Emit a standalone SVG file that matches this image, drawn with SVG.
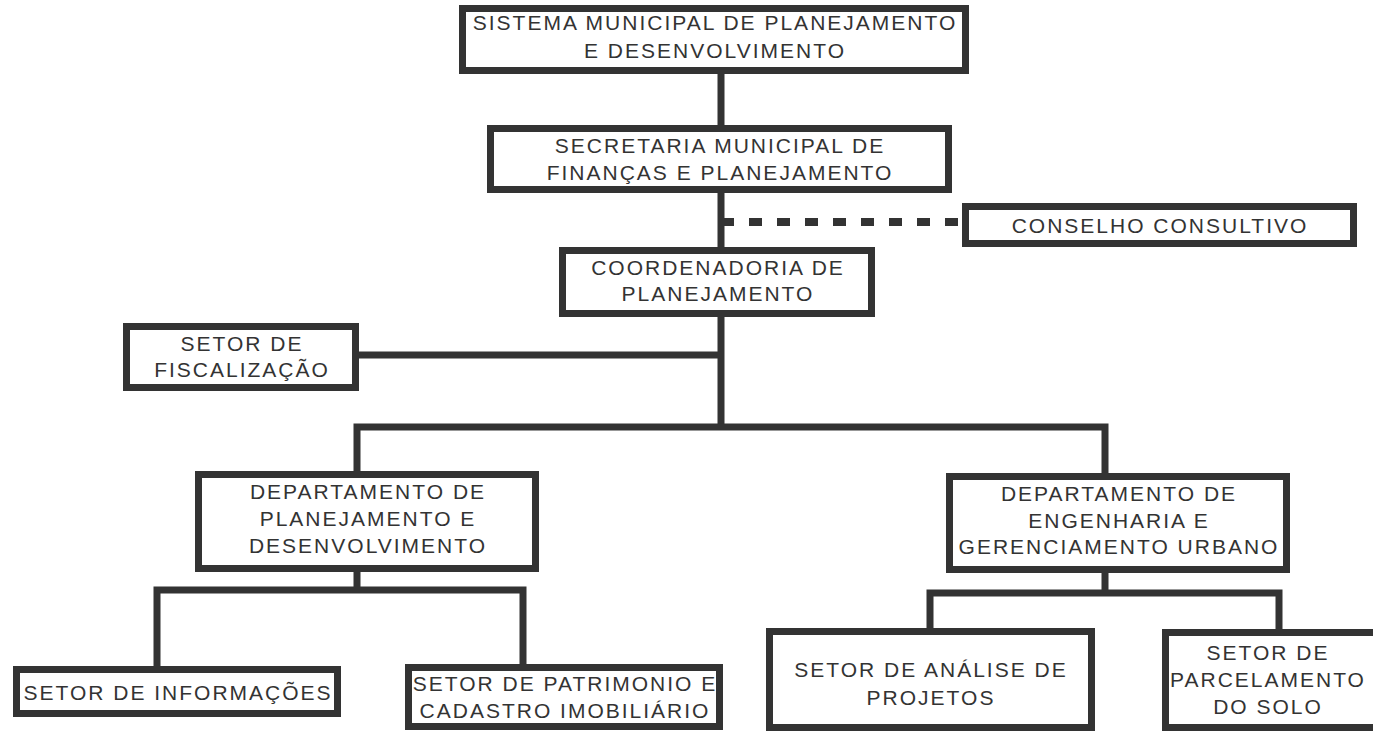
<svg xmlns="http://www.w3.org/2000/svg" width="1373" height="731" viewBox="0 0 1373 731">
<style>
.box{fill:#fff;stroke:#333;stroke-width:7}
.ln{fill:none;stroke:#333;stroke-width:7;stroke-linejoin:miter;stroke-linecap:butt}
.dash{fill:none;stroke:#333;stroke-width:8;stroke-dasharray:13 15}
text{font-family:"Liberation Sans",Arial,sans-serif;font-size:21px;letter-spacing:2px;fill:#333;text-anchor:middle}
</style>
<rect width="1373" height="731" fill="#fff"/>
<g id="connectors">
<path class="ln" d="M721 74V125M721 193V247M721 317V430"/>
<path class="ln" d="M359 355H721"/>
<path class="ln" d="M357 471V427H1105V473"/>
<path class="ln" d="M357 572V590M157 666V590H523V664"/>
<path class="ln" d="M1105 573V593M930 628V593H1279V629"/>
<path class="dash" d="M721 222H962"/>
</g>
<g id="sistema">
<rect class="box" x="462.5" y="8.5" width="503" height="62"/>
<text x="715" y="30">SISTEMA MUNICIPAL DE PLANEJAMENTO</text>
<text x="715" y="58">E DESENVOLVIMENTO</text>
</g>
<g id="secretaria">
<rect class="box" x="490.5" y="128.5" width="458" height="61"/>
<text x="720" y="153">SECRETARIA MUNICIPAL DE</text>
<text x="720" y="180">FINANÇAS E PLANEJAMENTO</text>
</g>
<g id="conselho">
<rect class="box" x="965.5" y="206.5" width="388" height="37"/>
<text x="1160" y="233">CONSELHO CONSULTIVO</text>
</g>
<g id="coordenadoria">
<rect class="box" x="562.5" y="250.5" width="309" height="63"/>
<text x="718" y="275">COORDENADORIA DE</text>
<text x="718" y="301">PLANEJAMENTO</text>
</g>
<g id="fiscalizacao">
<rect class="box" x="126.5" y="326.5" width="229" height="61"/>
<text x="242" y="351">SETOR DE</text>
<text x="242" y="377">FISCALIZAÇÃO</text>
</g>
<g id="dep-planejamento">
<rect class="box" x="198.5" y="474.5" width="337" height="94"/>
<text x="368" y="499">DEPARTAMENTO DE</text>
<text x="368" y="526">PLANEJAMENTO E</text>
<text x="368" y="553">DESENVOLVIMENTO</text>
</g>
<g id="dep-engenharia">
<rect class="box" x="949.5" y="476.5" width="337" height="93"/>
<text x="1119" y="501">DEPARTAMENTO DE</text>
<text x="1119" y="528">ENGENHARIA E</text>
<text x="1119" y="554">GERENCIAMENTO URBANO</text>
</g>
<g id="informacoes">
<rect class="box" x="16.5" y="669.5" width="321" height="44"/>
<text x="178" y="700">SETOR DE INFORMAÇÕES</text>
</g>
<g id="patrimonio">
<rect class="box" x="408.5" y="667.5" width="311" height="59"/>
<text x="565" y="691">SETOR DE PATRIMONIO E</text>
<text x="565" y="718">CADASTRO IMOBILIÁRIO</text>
</g>
<g id="analise">
<rect class="box" x="769.5" y="631.5" width="322" height="96"/>
<text x="931" y="677">SETOR DE ANÁLISE DE</text>
<text x="931" y="705">PROJETOS</text>
</g>
<g id="parcelamento">
<rect class="box" x="1165.5" y="632.5" width="240" height="95"/>
<text x="1268" y="660">SETOR DE</text>
<text x="1268" y="687">PARCELAMENTO</text>
<text x="1268" y="714">DO SOLO</text>
</g>
</svg>
